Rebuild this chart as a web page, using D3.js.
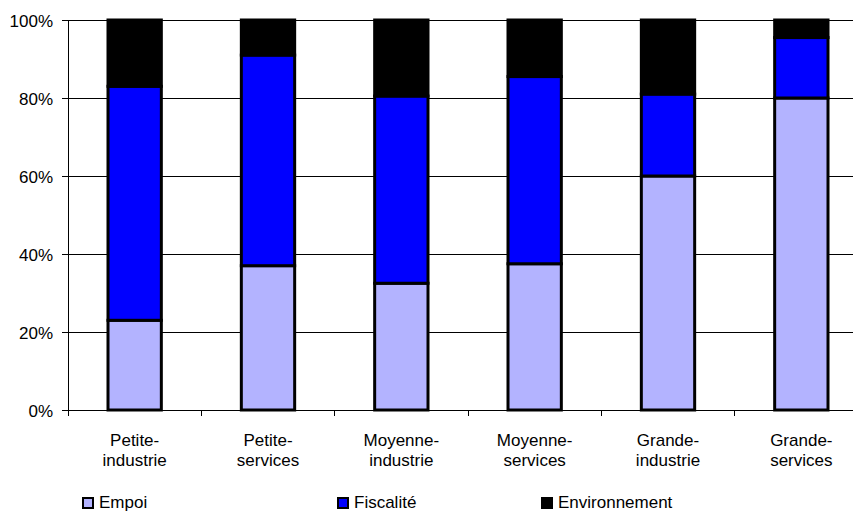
<!DOCTYPE html>
<html>
<head>
<meta charset="utf-8">
<script src="https://cdn.jsdelivr.net/npm/d3@7"></script>
<style>
  html, body { margin: 0; padding: 0; background: #fff; }
  svg text { font-family: "Liberation Sans", Arial, sans-serif; fill: #000; }
</style>
</head>
<body>
<svg id="chart" width="853" height="512"></svg>
<script>
// Categories (two-line labels) and stacked shares per component
const categories = ["Petite-industrie", "Petite-services", "Moyenne-industrie", "Moyenne-services", "Grande-industrie", "Grande-services"];
const labelLines = [["Petite-", "industrie"], ["Petite-", "services"], ["Moyenne-", "industrie"], ["Moyenne-", "services"], ["Grande-", "industrie"], ["Grande-", "services"]];
const empoi         = [23, 37, 32.5, 37.5, 60, 80];
const fiscalite     = [60, 54, 48, 48, 21, 15.5];
const environnement = [17, 9, 19.5, 14.5, 19, 4.5];
const seriesNames  = ["Empoi", "Fiscalité", "Environnement"];
const seriesColors = ["#b3b3ff", "#0000ff", "#000000"];
const yTicks = [0, 20, 40, 60, 80, 100];

const svg = d3.select("#chart");
const plotLeft = 68, plotRight = 868, plotTop = 20, plotBottom = 410;

const x = d3.scaleBand().domain(categories).range([plotLeft, plotRight]).paddingInner(0.6).paddingOuter(0.3);
const xEdges = d3.scaleLinear().domain([0, categories.length]).range([plotLeft, plotRight]);
const y = d3.scaleLinear().domain([0, 100]).range([plotBottom, plotTop]);

// Horizontal gridlines
svg.append("g")
  .selectAll("line")
  .data(yTicks.filter(d => d > 0))
  .join("line")
  .attr("x1", plotLeft).attr("x2", 853)
  .attr("y1", d => y(d)).attr("y2", d => y(d))
  .attr("stroke", "#000").attr("stroke-width", 1).attr("shape-rendering", "crispEdges");

// Y axis
const yAxis = d3.axisLeft(y).tickValues(yTicks).tickFormat(d => d + "%").tickSize(6).tickPadding(9);
const gy = svg.append("g").attr("transform", `translate(${plotLeft},0)`).call(yAxis);
gy.select(".domain").attr("stroke", "#000").attr("shape-rendering", "crispEdges");
gy.selectAll(".tick line").attr("stroke", "#000").attr("shape-rendering", "crispEdges");
gy.selectAll(".tick text").attr("font-size", 17).attr("font-family", "Liberation Sans, Arial, sans-serif").attr("dy", "0.38em");

// X axis baseline and category boundary ticks
svg.append("line")
  .attr("x1", plotLeft).attr("x2", 853).attr("y1", plotBottom).attr("y2", plotBottom)
  .attr("stroke", "#000").attr("shape-rendering", "crispEdges");
svg.append("g")
  .selectAll("line")
  .data(d3.range(categories.length + 1))
  .join("line")
  .attr("x1", d => xEdges(d)).attr("x2", d => xEdges(d))
  .attr("y1", plotBottom).attr("y2", plotBottom + 6)
  .attr("stroke", "#000").attr("shape-rendering", "crispEdges");

// Stacked bars
const rows = categories.map((c, i) => ({ cat: c, Empoi: empoi[i], "Fiscalité": fiscalite[i], Environnement: environnement[i] }));
const stack = d3.stack().keys(seriesNames)(rows);

svg.append("g")
  .selectAll("g")
  .data(stack)
  .join("g")
  .attr("fill", (d, i) => seriesColors[i])
  .selectAll("rect")
  .data(d => d)
  .join("rect")
  .attr("x", d => x(d.data.cat))
  .attr("width", x.bandwidth())
  .attr("y", d => y(d[1]))
  .attr("height", d => y(d[0]) - y(d[1]))
  .attr("stroke", "#000")
  .attr("stroke-width", 3);

// Two-line category labels
const xl = svg.append("g")
  .selectAll("text")
  .data(categories)
  .join("text")
  .attr("text-anchor", "middle")
  .attr("font-size", 17)
  .attr("x", d => x(d) + x.bandwidth() / 2)
  .attr("y", 446);
xl.each(function(d, i) {
  const t = d3.select(this);
  labelLines[i].forEach((ln, j) => {
    t.append("tspan")
      .attr("x", x(d) + x.bandwidth() / 2)
      .attr("dy", j === 0 ? 0 : 20)
      .text(ln);
  });
});

// Legend
const legendX = [82, 337, 541];
const lg = svg.append("g")
  .selectAll("g")
  .data(seriesNames)
  .join("g")
  .attr("transform", (d, i) => `translate(${legendX[i]},497)`);
lg.append("rect")
  .attr("x", 1).attr("y", 1).attr("width", 10).attr("height", 10)
  .attr("fill", (d, i) => seriesColors[i])
  .attr("stroke", "#000").attr("stroke-width", 2);
lg.append("text")
  .attr("x", 17).attr("y", 11)
  .attr("font-size", 17)
  .text(d => d);
</script>
</body>
</html>
